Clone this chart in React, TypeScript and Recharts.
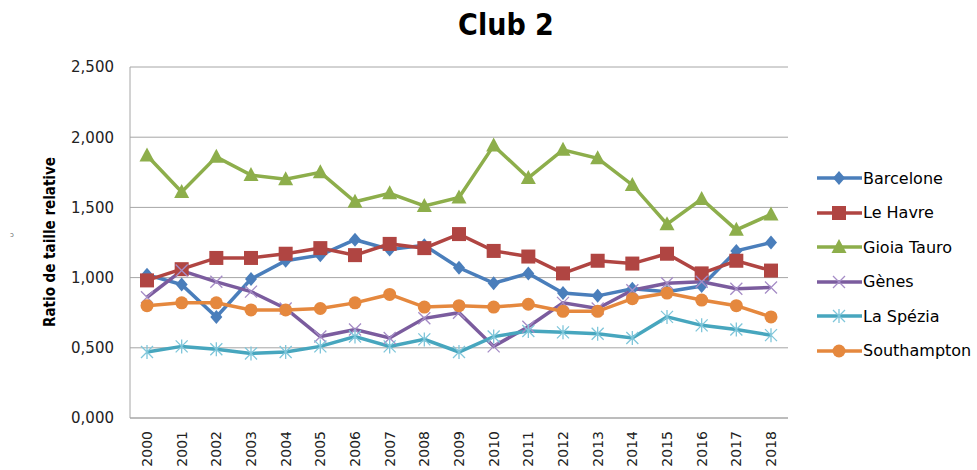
import { LineChart, Line, XAxis, YAxis, CartesianGrid } from 'recharts';

// ─── Data ────────────────────────────────────────────────
const YEARS = [
  '2000', '2001', '2002', '2003', '2004', '2005', '2006', '2007', '2008', '2009',
  '2010', '2011', '2012', '2013', '2014', '2015', '2016', '2017', '2018',
];

const BARCELONE = [1.02, 0.95, 0.72, 0.99, 1.12, 1.16, 1.27, 1.2, 1.23, 1.07, 0.96, 1.03, 0.89, 0.87, 0.92, 0.9, 0.94, 1.19, 1.25];
const LE_HAVRE = [0.98, 1.06, 1.14, 1.14, 1.17, 1.21, 1.16, 1.24, 1.21, 1.31, 1.19, 1.15, 1.03, 1.12, 1.1, 1.17, 1.03, 1.12, 1.05];
const GIOIA_TAURO = [1.87, 1.61, 1.86, 1.73, 1.7, 1.75, 1.54, 1.6, 1.51, 1.57, 1.94, 1.71, 1.91, 1.85, 1.66, 1.38, 1.56, 1.34, 1.45];
const GENES = [0.86, 1.05, 0.97, 0.9, 0.78, 0.58, 0.63, 0.57, 0.71, 0.75, 0.51, 0.65, 0.82, 0.78, 0.91, 0.96, 0.97, 0.92, 0.93];
const LA_SPEZIA = [0.47, 0.51, 0.49, 0.46, 0.47, 0.51, 0.58, 0.51, 0.56, 0.47, 0.58, 0.62, 0.61, 0.6, 0.57, 0.72, 0.66, 0.63, 0.59];
const SOUTHAMPTON = [0.8, 0.82, 0.82, 0.77, 0.77, 0.78, 0.82, 0.88, 0.79, 0.8, 0.79, 0.81, 0.76, 0.76, 0.85, 0.89, 0.84, 0.8, 0.72];

const Y_TICKS = [0, 0.5, 1, 1.5, 2, 2.5];

type Shape = 'diamond' | 'square' | 'triangle' | 'x' | 'star' | 'circle';

const SERIES: { key: string; name: string; values: number[]; color: string; shape: Shape }[] = [
  { key: 'barcelone', name: 'Barcelone', values: BARCELONE, color: '#4A7EBB', shape: 'diamond' },
  { key: 'leHavre', name: 'Le Havre', values: LE_HAVRE, color: '#B04542', shape: 'square' },
  { key: 'gioia', name: 'Gioia Tauro', values: GIOIA_TAURO, color: '#8DAE4B', shape: 'triangle' },
  { key: 'genes', name: 'Gènes', values: GENES, color: '#7B5C9E', shape: 'x' },
  { key: 'spezia', name: 'La Spézia', values: LA_SPEZIA, color: '#47A6BE', shape: 'star' },
  { key: 'southampton', name: 'Southampton', values: SOUTHAMPTON, color: '#E5883E', shape: 'circle' },
];

const chartData = YEARS.map((year, i) => {
  const row: Record<string, string | number> = { year };
  SERIES.forEach((s) => {
    row[s.key] = s.values[i];
  });
  return row;
});

const FONT = '"DejaVu Sans", Verdana, sans-serif';
const FONT_COND = '"DejaVu Sans Condensed", "DejaVu Sans", sans-serif';

// ─── Markers ─────────────────────────────────────────────
function Marker({ cx, cy, color, shape }: { cx: number; cy: number; color: string; shape: Shape }) {
  if (cx == null || cy == null) return null;
  switch (shape) {
    case 'diamond':
      return <path d={`M${cx},${cy - 7}L${cx + 6},${cy}L${cx},${cy + 7}L${cx - 6},${cy}Z`} fill={color} />;
    case 'square':
      return <rect x={cx - 7} y={cy - 7} width={14} height={14} fill={color} />;
    case 'triangle':
      return <path d={`M${cx},${cy - 8}L${cx + 7.5},${cy + 6}L${cx - 7.5},${cy + 6}Z`} fill={color} />;
    case 'circle':
      return <circle cx={cx} cy={cy} r={6.5} fill={color} />;
    case 'x':
      return (
        <path
          d={`M${cx - 6},${cy - 6}L${cx + 6},${cy + 6}M${cx + 6},${cy - 6}L${cx - 6},${cy + 6}`}
          stroke="#A58CC6"
          strokeWidth={1.3}
        />
      );
    case 'star':
      return (
        <path
          d={`M${cx - 6},${cy - 6}L${cx + 6},${cy + 6}M${cx + 6},${cy - 6}L${cx - 6},${cy + 6}M${cx},${cy - 7}L${cx},${cy + 7}`}
          stroke="#7FC6DA"
          strokeWidth={1.3}
        />
      );
  }
  return null;
}

// rotated year labels, reading bottom to top (tick y already sits 8px under the axis)
function XTick({ x, y, payload }: any) {
  return (
    <text
      x={x}
      y={y + 5}
      transform={`rotate(-90, ${x}, ${y + 5})`}
      textAnchor="end"
      dominantBaseline="central"
      fontFamily={FONT}
      fontSize={14}
      fill="#222"
    >
      {payload.value}
    </text>
  );
}

const formatY = (v: number) => v.toFixed(3).replace('.', ',');

export default function App() {
  return (
    <div style={{ position: 'absolute', left: 0, top: 0, width: 977, height: 470, background: '#fff', overflow: 'hidden' }}>
      <svg style={{ position: 'absolute', left: 0, top: 0 }} width={977} height={50}>
        <text x={506} y={35} textAnchor="middle" fontFamily={FONT_COND} fontWeight="bold" fontSize={30} fill="#000">
          Club 2
        </text>
      </svg>

      <LineChart
        width={977}
        height={470}
        data={chartData}
        margin={{ top: 67, right: 189, bottom: 7, left: 70 }}
      >
        <CartesianGrid horizontal vertical={false} stroke="#A6A6A6" />
        <XAxis
          dataKey="year"
          height={45}
          tick={<XTick />}
          tickLine={false}
          axisLine={{ stroke: '#A6A6A6' }}
          interval={0}
          padding={{ left: 17, right: 17 }}
        />
        <YAxis
          width={60}
          domain={[0, 2.5]}
          ticks={Y_TICKS}
          tickFormatter={formatY}
          tickLine={false}
          tickMargin={10}
          axisLine={{ stroke: '#A6A6A6' }}
          tick={{ fontFamily: FONT, fontSize: 15, fill: '#222' }}
          label={{
            content: () => (
              <text
                x={50}
                y={242}
                transform="rotate(-90, 50, 242)"
                textAnchor="middle"
                dominantBaseline="central"
                fontFamily={FONT_COND}
                fontWeight="bold"
                fontSize={15}
                fill="#000"
              >
                Ratio de taille relative
              </text>
            ),
          }}
        />
        {SERIES.map((s) => (
          <Line
            key={s.key}
            dataKey={s.key}
            name={s.name}
            stroke={s.color}
            strokeWidth={3.5}
            isAnimationActive={false}
            dot={(p: any) => <Marker key={`${s.key}-${p.index}`} cx={p.cx} cy={p.cy} color={s.color} shape={s.shape} />}
            activeDot={false}
          />
        ))}
      </LineChart>

      <div style={{ position: 'absolute', left: 10, top: 231, fontSize: 7, color: '#666', fontFamily: FONT }}>ɔ</div>

      {/* Legend — plain HTML beside the plot */}
      <div style={{ position: 'absolute', left: 817, top: 161 }}>
        {SERIES.map((s) => (
          <div key={s.key} style={{ display: 'flex', alignItems: 'center', height: 34.5 }}>
            <svg width={45} height={20}>
              <line x1={0} y1={10} x2={45} y2={10} stroke={s.color} strokeWidth={3.5} />
              <Marker cx={22} cy={10} color={s.color} shape={s.shape} />
            </svg>
            <span style={{ fontFamily: FONT, fontSize: 16, color: '#000', marginLeft: 1 }}>{s.name}</span>
          </div>
        ))}
      </div>
    </div>
  );
}
